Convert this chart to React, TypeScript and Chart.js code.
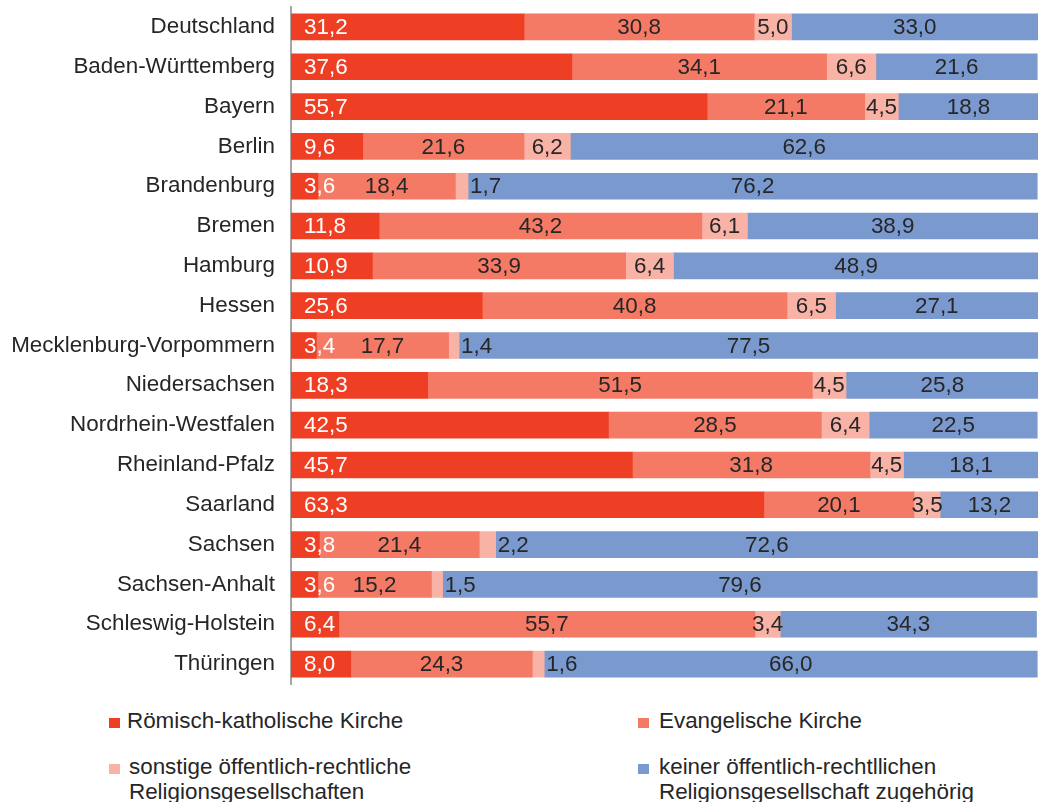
import React, { useEffect, useRef } from 'react';
import { Chart, registerables } from 'chart.js';

Chart.register(...registerables);

const regions = [
  'Deutschland', 'Baden-Württemberg', 'Bayern', 'Berlin', 'Brandenburg', 'Bremen', 'Hamburg', 'Hessen',
  'Mecklenburg-Vorpommern', 'Niedersachsen', 'Nordrhein-Westfalen', 'Rheinland-Pfalz', 'Saarland',
  'Sachsen', 'Sachsen-Anhalt', 'Schleswig-Holstein', 'Thüringen',
];
const katholisch = [31.2, 37.6, 55.7, 9.6, 3.6, 11.8, 10.9, 25.6, 3.4, 18.3, 42.5, 45.7, 63.3, 3.8, 3.6, 6.4, 8.0];
const evangelisch = [30.8, 34.1, 21.1, 21.6, 18.4, 43.2, 33.9, 40.8, 17.7, 51.5, 28.5, 31.8, 20.1, 21.4, 15.2, 55.7, 24.3];
const sonstige = [5.0, 6.6, 4.5, 6.2, 1.7, 6.1, 6.4, 6.5, 1.4, 4.5, 6.4, 4.5, 3.5, 2.2, 1.5, 3.4, 1.6];
const keine = [33.0, 21.6, 18.8, 62.6, 76.2, 38.9, 48.9, 27.1, 77.5, 25.8, 22.5, 18.1, 13.2, 72.6, 79.6, 34.3, 66.0];

const seriesLabels = [
  ['Römisch-katholische Kirche'],
  ['Evangelische Kirche'],
  ['sonstige öffentlich-rechtliche', 'Religionsgesellschaften'],
  ['keiner öffentlich-rechtllichen', 'Religionsgesellschaft zugehörig'],
];
const seriesColors = ['#ee3f24', '#f47a65', '#f9b2a6', '#7a9acf'];
const seriesValues = [katholisch, evangelisch, sonstige, keine];

const FONT = '"Liberation Sans", Arial, sans-serif';
const TEXT = '#262626';
const FS = 22.4;

const valueLabels = {
  id: 'valueLabels',
  afterDatasetsDraw(chart: any) {
    const ctx = chart.ctx;
    ctx.save();
    ctx.font = `${FS}px ${FONT}`;
    ctx.textBaseline = 'middle';
    chart.data.datasets.forEach((ds: any, di: number) => {
      const meta = chart.getDatasetMeta(di);
      meta.data.forEach((el: any, i: number) => {
        const v = ds.data[i];
        const { x, base, y } = el.getProps(['x', 'base', 'y'], true);
        const txt = v.toFixed(1).replace('.', ',');
        if (di === 0) {
          ctx.fillStyle = '#ffffff';
          ctx.textAlign = 'left';
          ctx.fillText(txt, base + 13, y + 1);
        } else if (di === 2 && v < 3) {
          ctx.fillStyle = TEXT;
          ctx.textAlign = 'left';
          ctx.fillText(txt, x + 2, y + 1);
        } else {
          ctx.fillStyle = TEXT;
          ctx.textAlign = 'center';
          ctx.fillText(txt, (x + base) / 2, y + 1);
        }
      });
    });
    ctx.restore();
  },
};

const legendPos = [
  { left: 109, top: 708, text: 18 },
  { left: 638, top: 708, text: 21 },
  { left: 109, top: 754, text: 20 },
  { left: 638, top: 754, text: 21 },
];

export default function App() {
  const ref = useRef<HTMLCanvasElement | null>(null);

  useEffect(() => {
    if (!ref.current) return;
    const chart = new Chart(ref.current, {
      type: 'bar',
      data: {
        labels: regions,
        datasets: seriesValues.map((vals, i) => ({
          label: seriesLabels[i].join(' '),
          data: vals,
          backgroundColor: seriesColors[i],
          borderWidth: 0,
          barThickness: 26,
        })),
      },
      options: {
        indexAxis: 'y',
        animation: false,
        responsive: false,
        maintainAspectRatio: false,
        layout: { padding: { top: 7, bottom: 6, left: 0, right: 1 } },
        plugins: {
          legend: { display: false },
          tooltip: { enabled: false },
          title: { display: false },
        },
        scales: {
          x: {
            stacked: true,
            min: 0,
            max: 100,
            display: false,
          },
          y: {
            stacked: true,
            grid: { display: false, drawTicks: false },
            border: { display: true, color: '#a6a6a6', width: 2 },
            ticks: {
              color: TEXT,
              font: { family: FONT, size: FS },
              padding: 16,
              autoSkip: false,
            },
            afterFit: (scale: any) => {
              scale.width = 291;
              scale.paddingTop = 0;
              scale.paddingBottom = 0;
            },
          },
        },
      },
      plugins: [valueLabels],
    });
    return () => chart.destroy();
  }, []);

  return (
    <div style={{ position: 'absolute', left: 0, top: 0, width: 1039, height: 802, background: '#fff', fontFamily: FONT }}>
      <canvas ref={ref} width={1039} height={690} style={{ position: 'absolute', left: 0, top: 0, width: 1039, height: 690 }} />
      {seriesLabels.map((lines, i) => (
        <div key={i} style={{ position: 'absolute', left: legendPos[i].left, top: legendPos[i].top }}>
          <div style={{ position: 'absolute', left: 0, top: 10, width: 11, height: 10, background: seriesColors[i] }} />
          <div style={{ position: 'absolute', left: legendPos[i].text, top: 0, fontSize: FS, lineHeight: '25px', color: TEXT, whiteSpace: 'nowrap' }}>
            {lines.map((l, j) => (
              <div key={j}>{l}</div>
            ))}
          </div>
        </div>
      ))}
    </div>
  );
}
